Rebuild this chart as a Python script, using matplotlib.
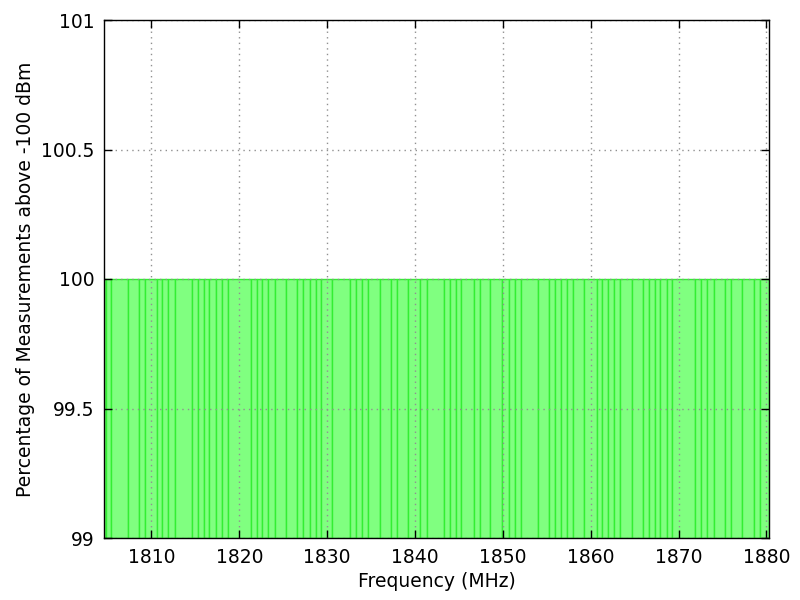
import matplotlib
matplotlib.use("Agg")
import matplotlib.pyplot as plt
import numpy as np

bin_edges = [
    1804.60, 1804.79, 1805.36, 1807.35, 1808.60, 1809.28, 1810.63, 1811.25,
    1811.88, 1812.67, 1814.64, 1815.32, 1815.96, 1816.60, 1817.36, 1818.00,
    1818.67, 1821.32, 1821.96, 1822.64, 1823.28, 1824.04, 1825.36, 1826.60,
    1827.28, 1828.01, 1828.69, 1829.25, 1830.57, 1832.65, 1833.33, 1833.96,
    1834.64, 1836.05, 1837.29, 1837.93, 1839.25, 1840.58, 1841.33, 1843.30,
    1843.98, 1844.65, 1845.29, 1846.69, 1847.37, 1848.57, 1849.90, 1850.66,
    1851.34, 1852.02, 1854.05, 1855.30, 1855.98, 1856.61, 1857.29, 1858.02,
    1859.26, 1860.69, 1861.26, 1861.98, 1862.66, 1863.34, 1864.65, 1865.95,
    1866.62, 1867.30, 1867.94, 1868.70, 1869.26, 1871.90, 1872.58, 1873.23,
    1873.99, 1875.30, 1875.98, 1877.27, 1878.58, 1879.26, 1880.30,
]
# every bin sits at 100 %
percent_above = [100.0] * (len(bin_edges) - 1)

x_ticks = [1810, 1820, 1830, 1840, 1850, 1860, 1870, 1880]
y_ticks = [99, 99.5, 100, 100.5, 101]
y_tick_labels = ["99", "99.5", "100", "100.5", "101"]

FONT = 13.5

fig = plt.figure(figsize=(8, 6), dpi=100)
ax = fig.add_axes([104 / 800, 62 / 600, 665 / 800, 518 / 600])

edges = np.array(bin_edges)
ax.bar(edges[:-1], np.array(percent_above) - 99, width=np.diff(edges),
       bottom=99, align="edge", facecolor="#80ff80", edgecolor="#33ee33",
       linewidth=1.0, zorder=1)

ax.set_xlim(bin_edges[0], bin_edges[-1])
ax.set_ylim(99, 101)
ax.set_xticks(x_ticks)
ax.set_yticks(y_ticks)
ax.set_yticklabels(y_tick_labels)

ax.grid(True, color="#909090", linestyle=(0, (1, 3)), linewidth=1.0, zorder=3)
ax.set_axisbelow(False)
ax.tick_params(direction="in", length=6, width=1, top=True, right=True,
               labelsize=FONT, pad=7)
for sp in ax.spines.values():
    sp.set_linewidth(1.0)
    sp.set_zorder(4)

ax.set_xlabel("Frequency (MHz)", fontsize=FONT, labelpad=4)
ax.set_ylabel("Percentage of Measurements above -100 dBm", fontsize=FONT,
              labelpad=4)

fig.savefig("out.png", dpi=100)
